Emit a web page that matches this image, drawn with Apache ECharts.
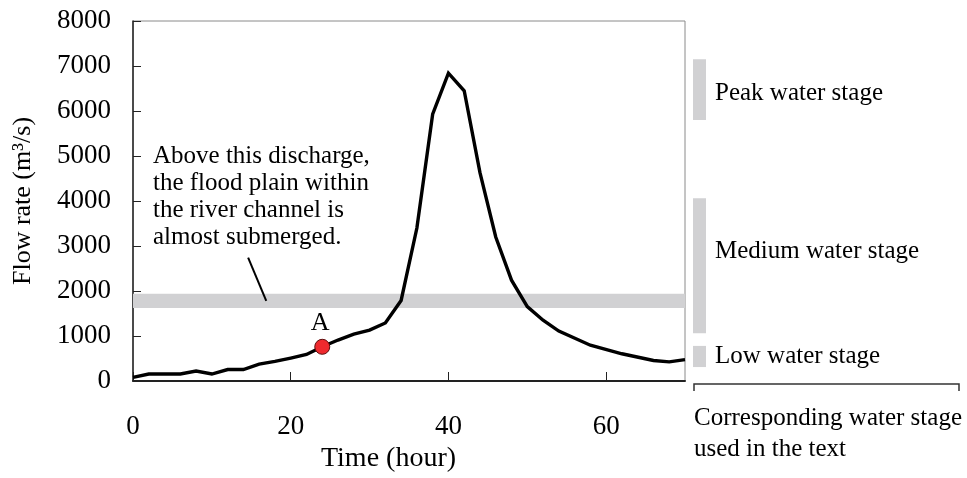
<!DOCTYPE html>
<html>
<head>
<meta charset="utf-8">
<script src="https://cdn.jsdelivr.net/npm/echarts@6/dist/echarts.min.js"></script>
<style>
  html, body { margin: 0; padding: 0; background: #ffffff; }
  #chart { width: 967px; height: 478px; }
</style>
</head>
<body>
<div id="chart"></div>
<script>
// ---- data ----
const hours = [0, 2, 4, 6, 8, 10, 12, 14, 16, 18, 20, 22, 24, 26, 28, 30, 32, 34, 36, 38, 40, 42, 44, 46, 48, 50, 52, 54, 58, 62, 66, 68, 70];
const flow  = [80, 155, 155, 155, 220, 155, 255, 255, 375, 435, 510, 590, 760, 910, 1040, 1130, 1290, 1790, 3400, 5930, 6840, 6450, 4630, 3200, 2240, 1655, 1350, 1110, 795, 605, 455, 425, 475];
const pointA = [24, 760];
const pointALabel = 'A';
const floodBand = [1620, 1940];
const leaderLine = [[14.6, 2740], [16.9, 1780]];
const xTickValues = [0, 20, 40, 60];
const yTickValues = [0, 1000, 2000, 3000, 4000, 5000, 6000, 7000, 8000];
const stageNames = ['Peak water stage', 'Medium water stage', 'Low water stage'];
const stageRanges = [[5800, 7150], [1060, 4060], [310, 780]];
const annotationText = 'Above this discharge,\nthe flood plain within\nthe river channel is\nalmost submerged.';
const bracketText = 'Corresponding water stage\nused in the text';

const FONT = '"Liberation Serif", "DejaVu Serif", serif';
const TXT = '#000000';
const GREY = '#d1d1d3';

const chart = echarts.init(document.getElementById('chart'), null, { renderer: 'canvas' });

const seriesData = hours.map((h, i) => [h, flow[i]]);

chart.setOption({
  animation: false,
  backgroundColor: '#ffffff',
  textStyle: { fontFamily: FONT, color: TXT },
  grid: {
    left: 133, right: 282, top: 21, bottom: 97,
    show: true, borderColor: '#8a8a8a', borderWidth: 1, backgroundColor: 'transparent'
  },
  xAxis: {
    type: 'value', min: 0, max: 70, interval: 20,
    name: 'Time (hour)', nameLocation: 'middle', nameGap: 62,
    nameTextStyle: { fontFamily: FONT, fontSize: 28, color: TXT, padding: [0, 41, 0, 0] },
    axisLine: { show: true, lineStyle: { color: '#222222', width: 2 } },
    axisTick: { show: true, inside: true, length: 9, lineStyle: { color: '#222222', width: 1 }, customValues: xTickValues },
    axisLabel: { fontFamily: FONT, fontSize: 27, color: TXT, margin: 32, customValues: xTickValues, formatter: v => String(v) },
    splitLine: { show: false }
  },
  yAxis: {
    type: 'value', min: 0, max: 8000, interval: 1000,
    name: 'Flow rate (m³/s)', nameLocation: 'middle', nameGap: 97, nameRotate: 90,
    nameTextStyle: { fontFamily: FONT, fontSize: 26, color: TXT },
    axisLine: { show: true, lineStyle: { color: '#222222', width: 1.5 } },
    axisTick: { show: true, inside: true, length: 8, lineStyle: { color: '#222222', width: 1 }, customValues: yTickValues },
    axisLabel: { fontFamily: FONT, fontSize: 27, color: TXT, margin: 22, customValues: yTickValues, formatter: v => String(v) },
    splitLine: { show: false }
  },
  series: [
    {
      type: 'line',
      data: seriesData,
      showSymbol: false,
      symbol: 'none',
      lineStyle: { color: '#000000', width: 3.4, join: 'miter' },
      z: 3,
      markArea: {
        silent: true,
        itemStyle: { color: GREY },
        data: [[{ yAxis: floodBand[0] }, { yAxis: floodBand[1] }]]
      },
      markLine: {
        silent: true,
        symbol: ['none', 'none'],
        label: { show: false },
        lineStyle: { color: '#000000', width: 2, type: 'solid' },
        data: [[{ coord: leaderLine[0] }, { coord: leaderLine[1] }]]
      }
    },
    {
      type: 'scatter',
      data: [pointA],
      symbol: 'circle',
      symbolSize: 15,
      itemStyle: { color: '#ee2a2e', borderColor: '#5a0c0c', borderWidth: 1, opacity: 1 },
      label: {
        show: true, position: 'top', distance: 3, offset: [-2, 0],
        formatter: pointALabel, fontFamily: FONT, fontSize: 26, color: '#000000'
      },
      emphasis: { disabled: true },
      z: 5
    }
  ]
});

// right-hand stage bars, placed on the y scale of the chart
const graphics = [];
stageRanges.forEach(r => {
  const yTop = chart.convertToPixel({ yAxisIndex: 0 }, r[1]);
  const yBot = chart.convertToPixel({ yAxisIndex: 0 }, r[0]);
  graphics.push({ type: 'rect', shape: { x: 693, y: yTop, width: 13, height: yBot - yTop }, style: { fill: GREY }, silent: true });
});
const stageTextY = [93, 251, 356];
stageNames.forEach((n, i) => {
  graphics.push({ type: 'text', x: 715, y: stageTextY[i], style: { text: n, fontFamily: FONT, fontSize: 25, fill: TXT, verticalAlign: 'middle' }, silent: true });
});
graphics.push({ type: 'polyline', shape: { points: [[694, 391], [694, 384], [959, 384], [959, 391]] }, style: { stroke: '#333333', lineWidth: 1.5, fill: null }, silent: true });
graphics.push({ type: 'text', x: 694, y: 403, style: { text: bracketText, fontFamily: FONT, fontSize: 25, lineHeight: 31, fill: TXT }, silent: true });
graphics.push({ type: 'text', x: 153, y: 143, style: { text: annotationText, fontFamily: FONT, fontSize: 25, lineHeight: 27, fill: TXT }, silent: true });

chart.setOption({ graphic: graphics });
</script>
</body>
</html>
